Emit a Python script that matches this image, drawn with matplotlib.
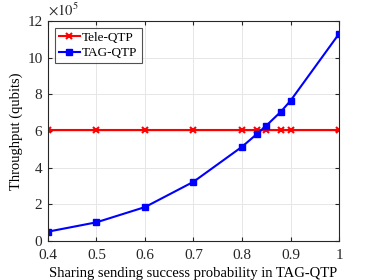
import matplotlib
matplotlib.use("Agg")
import matplotlib.pyplot as plt

plt.rcParams['font.family'] = ['Liberation Serif', 'DejaVu Serif']
plt.rcParams['mathtext.fontset'] = 'stix'

p = [0.4, 0.5, 0.6, 0.7, 0.8, 0.83, 0.85, 0.88, 0.9, 1.0]
tele = [6.04, 6.04, 6.04, 6.04, 6.04, 6.04, 6.04, 6.04, 6.04, 6.04]
tag = [0.51, 1.02, 1.85, 3.23, 5.14, 5.82, 6.29, 7.05, 7.65, 11.3]

fig = plt.figure(figsize=(3.74, 2.8), dpi=100)
ax = fig.add_axes([48/374, 39/280, 291/374, 220/280])

ax.plot(p, tele, color='red', marker='x', markersize=4, markeredgewidth=1.5, linewidth=1.5, label='Tele-QTP')
ax.plot(p, tag, color='blue', marker='s', markersize=4, linewidth=1.5, label='TAG-QTP')

ax.set_xlim(0.4, 1)
ax.set_ylim(0, 12)
ax.set_xticks([0.4, 0.5, 0.6, 0.7, 0.8, 0.9, 1])
ax.set_xticklabels(['0.4', '0.5', '0.6', '0.7', '0.8', '0.9', '1'])
ax.set_yticks([0, 2, 4, 6, 8, 10, 12])
ax.tick_params(direction='in', labelsize=11, colors='#262626', length=3, top=True, right=True)
ax.tick_params(axis='x', pad=6)
ax.tick_params(axis='y', pad=4)
ax.grid(True, color='#e6e6e6', linewidth=0.7)
ax.set_axisbelow(True)
for s in ax.spines.values():
    s.set_color('#262626')
    s.set_linewidth(0.8)

ax.set_xlabel('Sharing sending success probability in TAG-QTP', fontsize=10.5, labelpad=3)
ax.set_ylabel('Throughput (qubits)', fontsize=10.5, labelpad=3)
ax.text(0.0, 1.01, r'$\times 10^5$', transform=ax.transAxes, fontsize=10.5, color='#262626', va='bottom')

leg = ax.legend(loc='upper left', fontsize=9.5, frameon=True, fancybox=False,
                borderpad=0.3, handlelength=1.6, handletextpad=0.2, labelspacing=0.25,
                borderaxespad=0.5)
leg.get_frame().set_edgecolor('#262626')
leg.get_frame().set_linewidth(0.8)

fig.savefig('out.png', dpi=100)
